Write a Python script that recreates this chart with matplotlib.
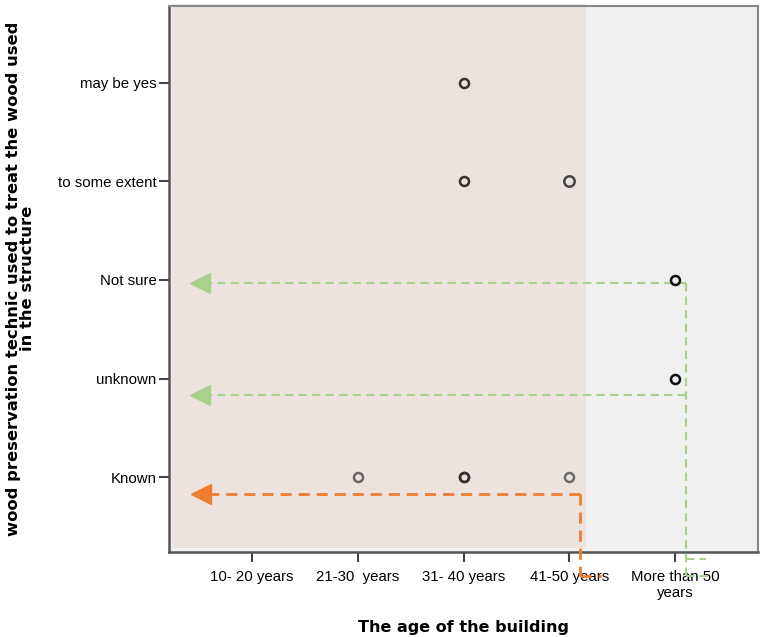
import matplotlib.pyplot as plt
from matplotlib.patches import Rectangle

age_labels = ["10- 20 years", "21-30  years", "31- 40 years", "41-50 years", "More than 50\nyears"]
answer_labels = ["Known", "unknown", "Not sure", "to some extent", "may be yes"]

# observed points: age index, answer index, how dark (more cases -> darker)
pt_age = [2, 3, 4, 3, 3, 4, 5, 5, 3]
pt_ans = [1, 1, 1, 4, 5, 4, 3, 2, 1]
pt_col = ["#666666", "#333333", "#6a6a6a", "#333333", "#333333", "#444444", "#111111", "#111111", "#333333"]
pt_size = [6.5, 6.5, 6.5, 6.5, 6.5, 7.5, 6.5, 6.5, 6.5]

# annotation guide lines (data coords)
green_y = [2.97, 1.83]
green_x = 5.10
orange_y = 0.83
orange_x = 4.10

plt.rcParams['font.family'] = ['Liberation Sans', 'DejaVu Sans']
fig = plt.figure(figsize=(7.62, 6.37), dpi=100)
ax = fig.add_axes([0.2218, 0.1334, 0.7730, 0.8572])
ax.set_facecolor("#f0f0f0")
ax.set_xlim(0.215, 5.785)
ax.set_ylim(0.24, 5.78)

# shaded block behind the first four age groups
ax.add_patch(Rectangle((0.245, 0.28), 4.16 - 0.245, 5.8 - 0.28, facecolor="#ede3de",
                       edgecolor="none", zorder=0.5, clip_on=False))

for x, y, c, s in zip(pt_age, pt_ans, pt_col, pt_size):
    ax.plot(x, y, 'o', mfc="none", mec=c, ms=s, mew=1.8, zorder=5)

green = "#a9d18e"
orange = "#ed7d31"
dash = (0, (4, 2.5))

for gy in green_y:
    ax.plot([green_x, 0.6], [gy, gy], color=green, lw=1.5, linestyle=dash, zorder=4, clip_on=False)
    ax.plot(0.51, gy, marker='<', color=green, ms=15, zorder=4, clip_on=False)
ax.plot([green_x, green_x], [green_y[0], 0.0], color=green, lw=1.5, linestyle=dash, zorder=4, clip_on=False)
ax.plot([green_x, 5.29], [0.17, 0.17], color=green, lw=1.5, linestyle=dash, zorder=4, clip_on=False)
ax.plot([green_x, 5.32], [0.0, 0.0], color=green, lw=1.5, linestyle=dash, zorder=4, clip_on=False)

ax.plot([orange_x, 0.6], [orange_y, orange_y], color=orange, lw=2, linestyle=dash, zorder=4, clip_on=False)
ax.plot(0.52, orange_y, marker='<', color=orange, ms=15, zorder=4, clip_on=False)
ax.plot([orange_x, orange_x], [orange_y, 0.0], color=orange, lw=2, linestyle=dash, zorder=4, clip_on=False)
ax.plot([orange_x, 4.3], [0.0, 0.0], color=orange, lw=2, linestyle=dash, zorder=4, clip_on=False)

ax.set_xticks(range(1, 6))
ax.set_xticklabels(age_labels, fontsize=10.8)
ax.set_yticks(range(1, 6))
ax.set_yticklabels(answer_labels, fontsize=10.8)
ax.tick_params(axis='x', length=7, width=1.5, color="#444444", pad=6)
ax.tick_params(axis='y', length=7, width=1.5, color="#444444", pad=2)

for s in ["left", "bottom"]:
    ax.spines[s].set_color("#555555")
    ax.spines[s].set_linewidth(1.8)
for s in ["top", "right"]:
    ax.spines[s].set_color("#888888")
    ax.spines[s].set_linewidth(1.5)

ax.set_xlabel("The age of the building", fontsize=11.5, fontweight="bold", family="DejaVu Sans", labelpad=14)
fig.text(0.027, 0.563, "wood preservation technic used to treat the wood used\nin the structure",
         rotation=90, ha="center", va="center", fontsize=11.8, fontweight="bold",
         family="DejaVu Sans", linespacing=0.95)

plt.savefig("out.png", dpi=100)
